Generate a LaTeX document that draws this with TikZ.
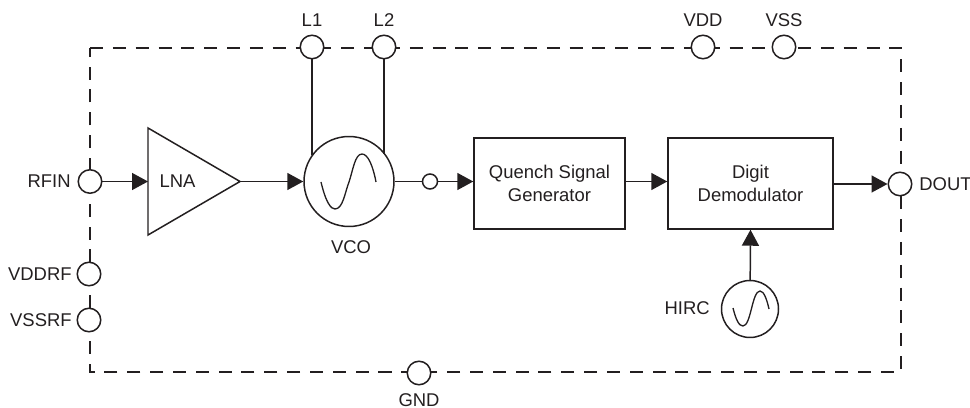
\documentclass[tikz,border=0pt]{standalone}
\usepackage{fontspec}
\setmainfont{Liberation Sans}
\usetikzlibrary{arrows.meta}
\definecolor{ink}{HTML}{231F20}
\tikzset{>={Triangle[length=.32cm,width=.34cm]},every node/.style={font=\fontsize{10.5}{13}\selectfont,text=ink},
pin/.style={draw=ink,circle,fill=white,line width=.85pt,minimum size=.47cm,inner sep=0pt},
tap/.style={draw=ink,circle,fill=white,line width=.85pt,minimum size=.3cm,inner sep=0pt},
osc/.style={draw=ink,circle,line width=.85pt,inner sep=0pt},
block/.style={draw=ink,line width=.85pt,align=center,minimum height=1.82cm},
flow/.style={draw=ink,line width=.85pt,->},
edge/.style={draw=ink,line width=.85pt},
wave/.style={draw=ink,line width=.75pt},
border/.style={draw=ink,line width=.75pt,dash pattern=on 7.4pt off 5.6pt}}

\begin{document}
\begin{tikzpicture}[x=.02cm,y=-.02cm]
\useasboundingbox (0,0) rectangle (970,408);
\draw[border] (90,48)--(901,48)--(901,372)--(90,372)--cycle;
% pins on the dashed outline
\node[pin] (l1) at (312,47){};\node[pin] (l2) at (384,47){};
\node[pin] (vdd) at (703,47){};\node[pin] (vss) at (784,47){};
\node[pin] (rfin) at (90,181.5){};\node[pin] (vddrf) at (89,274){};
\node[pin] (vssrf) at (89,320){};\node[pin] (gnd) at (419,373){};
\node[pin] (dout) at (900,184){};
\node (l1txt) at (312,20){L1};\node (l2txt) at (384,20){L2};
\node (vddtxt) at (703,20){VDD};\node (vsstxt) at (784,20){VSS};
\node[left,inner sep=0pt] (rfintxt) at (71,181){RFIN};
\node[left,inner sep=0pt] (vddrftxt) at (72,274){VDDRF};
\node[left,inner sep=0pt] (vssrftxt) at (72,320){VSSRF};
\node (gndtxt) at (419,400){GND};
\node[right,inner sep=0pt] (douttxt) at (919,184){DOUT};
% signal chain
\draw[edge,line join=miter] (148,128)--(148,235)--(240,181.5)--cycle;
\coordinate (lnain) at (148,181.5);\coordinate (lnaout) at (240,181.5);
\node (lnatxt) at (177.5,181){LNA};
\node[osc,minimum size=1.8cm] (vco) at (349,181.5){};
\node (vcotxt) at (351,247){VCO};
\node[tap] (mix) at (430,181.5){};
\node[block,minimum width=3.02cm] (quench) at (549.5,183.5){Quench Signal\\Generator};
\node[block,minimum width=3.3cm] (digit) at (750.5,183.5){Digit\\Demodulator};
\node[osc,minimum size=1.14cm] (hirc) at (750,309){};
\node[left,inner sep=0pt] (hirctxt) at (710,308){HIRC};
\draw[wave] (321,182)..controls (326,203) and (331,209)..(335,209)..controls (343,209) and (345,192)..(349,182)..controls (353,170) and (355,154)..(362,154)..controls (368,154) and (373,166)..(376,182);
\draw[wave] (733,308)..controls (736,320) and (739,326)..(743,326)..controls (751,326) and (752,291)..(760,291)..controls (764,291) and (767,300)..(769,309);
\draw[edge] (l1)--(l1|-vco.145);\draw[edge] (l2)--(l2|-vco.37);
\draw[flow] (rfin)--(lnain);
\draw[flow] (lnaout)--(vco.west);
\draw[edge] (vco.east)--(mix);
\draw[flow] (mix)--(mix-|quench.west);
\draw[flow] (quench.east|-mix)--(digit.west|-mix);
\draw[flow] (digit.east|-dout)--(dout);
\draw[flow] (hirc)--(digit.south);
\end{tikzpicture}
\end{document}
